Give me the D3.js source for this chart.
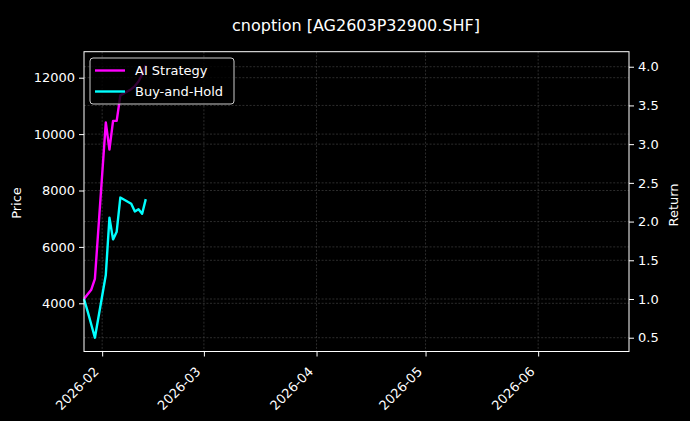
<!DOCTYPE html>
<html>
<head>
<meta charset="utf-8">
<script src="https://cdn.jsdelivr.net/npm/d3@7"></script>
<style>
  html, body { margin: 0; padding: 0; background: #000; }
  svg { display: block; font-family: "DejaVu Sans", sans-serif; }
</style>
</head>
<body>
<svg id="chart" width="690" height="421"></svg>
<script>
// trading days shown on the chart
const dates = ["2026-01-27", "2026-01-28", "2026-01-29", "2026-01-30", "2026-02-02", "2026-02-03", "2026-02-04",
    "2026-02-05", "2026-02-06", "2026-02-09", "2026-02-10", "2026-02-11", "2026-02-12", "2026-02-13"]
// cumulative return (right axis)
const aiStrategy = [1.00, 1.06, 1.12, 1.26, 3.28, 2.93, 3.30, 3.30, 3.63, 3.71, 3.75, 3.81, 3.90, 4.02]
const buyHold = [1.00, 0.84, 0.67, 0.50, 1.31, 2.05, 1.77, 1.87, 2.31, 2.23, 2.13, 2.16, 2.10, 2.29]
const seriesNames = ["AI Strategy", "Buy-and-Hold"]
const seriesColors = ["#ff00ff", "#00ffff"]
// axis ranges / ticks
const xDomain = ["2026-01-27", "2026-06-26"]
const priceDomain = [2291, 12922]
const priceTicks = [4000, 6000, 8000, 10000, 12000]
const returnDomain = [0.322, 4.194]
const returnTicks = [0.5, 1.0, 1.5, 2.0, 2.5, 3.0, 3.5, 4.0]
const title = "cnoption [AG2603P32900.SHF]"

const mLeft = 84, mRight = 629, mTop = 51.7, mBottom = 351.5
const parse = d3.timeParse("%Y-%m-%d")
const svg = d3.select("#chart")

svg.append("rect").attr("width", 690).attr("height", 421).attr("fill", "#000")

const x = d3.scaleTime().domain(xDomain.map(parse)).range([mLeft, mRight])
const yPrice = d3.scaleLinear().domain(priceDomain).range([mBottom, mTop])
const yRet = d3.scaleLinear().domain(returnDomain).range([mBottom, mTop])
const monthTicks = d3.timeMonth.range(parse("2026-02-01"), parse("2026-06-02"))

// grid (x, left y, right y)
const grid = svg.append("g").attr("stroke", "#4a4a4a").attr("stroke-width", 0.6).attr("stroke-dasharray", "2,1.6")
monthTicks.forEach(t => {
    grid.append("line").attr("x1", x(t)).attr("x2", x(t)).attr("y1", mTop).attr("y2", mBottom)
})
priceTicks.forEach(v => {
    grid.append("line").attr("x1", mLeft).attr("x2", mRight).attr("y1", yPrice(v)).attr("y2", yPrice(v))
})
returnTicks.forEach(v => {
    grid.append("line").attr("x1", mLeft).attr("x2", mRight).attr("y1", yRet(v)).attr("y2", yRet(v))
})

// lines
const line = d3.line().x((d, i) => x(parse(dates[i]))).y(d => yRet(d))
const plot = svg.append("g")
plot.append("path").datum(aiStrategy).attr("d", line)
    .attr("fill", "none").attr("stroke", seriesColors[0]).attr("stroke-width", 2.4).attr("stroke-linejoin", "round")
plot.append("path").datum(buyHold).attr("d", line)
    .attr("fill", "none").attr("stroke", seriesColors[1]).attr("stroke-width", 2.4).attr("stroke-linejoin", "round")

// axes
const xAxis = svg.append("g").attr("transform", `translate(0,${mBottom})`)
    .call(d3.axisBottom(x).tickValues(monthTicks).tickFormat(d3.timeFormat("%Y-%m")).tickSize(5).tickSizeOuter(0))
xAxis.selectAll("text")
    .attr("text-anchor", "end").attr("dy", null).attr("y", 0)
    .attr("transform", "translate(-3,21) rotate(-45)")

const yLeft = svg.append("g").attr("transform", `translate(${mLeft},0)`)
    .call(d3.axisLeft(yPrice).tickValues(priceTicks).tickFormat(d3.format("d")).tickSize(5).tickPadding(4).tickSizeOuter(0))
const yRight = svg.append("g").attr("transform", `translate(${mRight},0)`)
    .call(d3.axisRight(yRet).tickValues(returnTicks).tickFormat(d3.format(".1f")).tickSize(5).tickPadding(4).tickSizeOuter(0))

;[xAxis, yLeft, yRight].forEach(g => {
    g.select(".domain").remove()
    g.selectAll(".tick line").attr("stroke", "#fff").attr("stroke-width", 1)
    g.selectAll("text").attr("font-size", 13).attr("fill", "#fff").attr("font-family", "DejaVu Sans")
})

// frame
svg.append("rect").attr("x", mLeft).attr("y", mTop).attr("width", mRight - mLeft).attr("height", mBottom - mTop)
    .attr("fill", "none").attr("stroke", "#fff").attr("stroke-width", 1)

// labels
svg.append("text").attr("x", 356).attr("y", 31).attr("text-anchor", "middle")
    .attr("font-size", 16).attr("fill", "#fff").text(title)
svg.append("text").attr("transform", "translate(21,203) rotate(-90)").attr("text-anchor", "middle")
    .attr("font-size", 13).attr("fill", "#fff").text("Price")
svg.append("text").attr("transform", "translate(678,205) rotate(-90)").attr("text-anchor", "middle")
    .attr("font-size", 13).attr("fill", "#fff").text("Return")

// legend
const legend = svg.append("g")
legend.append("rect").attr("x", 90).attr("y", 58).attr("width", 144).attr("height", 46).attr("rx", 3)
    .attr("fill", "#000").attr("fill-opacity", 0.8).attr("stroke", "#ccc").attr("stroke-width", 1)
seriesNames.forEach((name, i) => {
    const ly = 70.5 + i * 21
    legend.append("line").attr("x1", 95).attr("x2", 125).attr("y1", ly).attr("y2", ly)
        .attr("stroke", seriesColors[i]).attr("stroke-width", 2.4)
    legend.append("text").attr("x", 135).attr("y", ly).attr("dy", "0.35em")
        .attr("font-size", 13).attr("fill", "#fff").text(name)
})
</script>
</body>
</html>
